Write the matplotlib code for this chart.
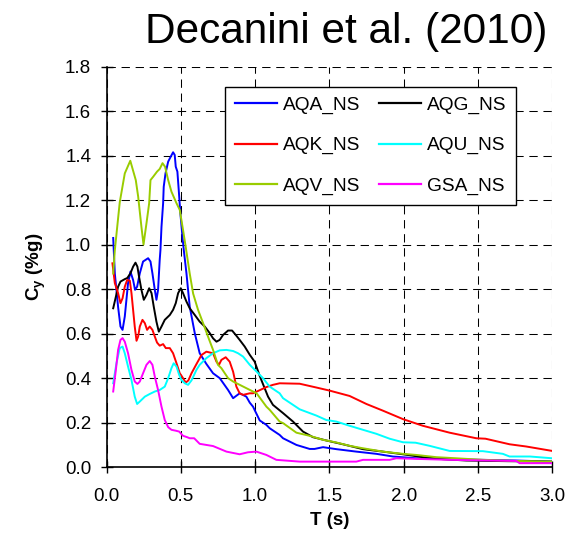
import matplotlib
matplotlib.use("Agg")
import matplotlib.pyplot as plt

plt.rcParams['font.family'] = ['Liberation Sans', 'DejaVu Sans']
plt.rcParams['mathtext.fontset'] = 'custom'
plt.rcParams['mathtext.bf'] = 'Liberation Sans:bold'
plt.rcParams['mathtext.rm'] = 'Liberation Sans'

# Yield strength coefficient spectra, T in seconds, Cy in %g
t_aqa = [0.045, 0.056, 0.078, 0.094, 0.108, 0.123, 0.145, 0.161, 0.179, 0.192, 0.206, 0.224,
         0.246, 0.28, 0.296, 0.309, 0.325, 0.336, 0.347, 0.358, 0.363, 0.37, 0.381, 0.385,
         0.397, 0.415, 0.432, 0.448, 0.459, 0.466, 0.477, 0.486, 0.497, 0.511, 0.52, 0.538,
         0.56, 0.594, 0.627, 0.672, 0.717, 0.762, 0.818, 0.852, 0.896, 0.941, 0.964, 0.986,
         1.031, 1.076, 1.098, 1.165, 1.188, 1.278, 1.367, 1.40, 1.457, 1.547, 1.681, 1.816,
         1.927, 2.085, 2.31, 2.533, 2.757, 3.0]
aqa_ns = [1.03, 0.87, 0.72, 0.632, 0.617, 0.677, 0.827, 0.879, 0.841, 0.797, 0.811, 0.871,
          0.924, 0.939, 0.924, 0.871, 0.797, 0.752, 0.797, 0.931, 0.976, 1.08, 1.186, 1.26,
          1.32, 1.373, 1.395, 1.415, 1.403, 1.35, 1.328, 1.246, 1.141, 1.036, 0.976, 0.871,
          0.721, 0.602, 0.512, 0.464, 0.422, 0.40, 0.347, 0.31, 0.332, 0.317, 0.29, 0.272,
          0.21, 0.19, 0.175, 0.145, 0.130, 0.100, 0.082, 0.082, 0.090, 0.081, 0.070, 0.060,
          0.048, 0.040, 0.036, 0.033, 0.030, 0.025]

t_aqg = [0.045, 0.063, 0.078, 0.094, 0.123, 0.14, 0.161, 0.179, 0.195, 0.208, 0.219, 0.235,
         0.251, 0.269, 0.287, 0.303, 0.318, 0.336, 0.352, 0.37, 0.392, 0.426, 0.448, 0.466,
         0.482, 0.50, 0.515, 0.538, 0.56, 0.594, 0.627, 0.661, 0.695, 0.717, 0.74, 0.762,
         0.784, 0.818, 0.845, 0.87, 0.896, 0.93, 0.964, 0.997, 1.031, 1.087, 1.12, 1.188,
         1.255, 1.322, 1.389, 1.479, 1.591, 1.726, 1.86, 1.995, 2.129, 2.264, 2.421, 2.7, 3.0]
aqg_ns = [0.714, 0.766, 0.811, 0.834, 0.845, 0.85, 0.871, 0.901, 0.919, 0.901, 0.856, 0.797,
          0.752, 0.774, 0.804, 0.782, 0.721, 0.654, 0.609, 0.632, 0.662, 0.684, 0.707, 0.737,
          0.782, 0.804, 0.782, 0.744, 0.714, 0.684, 0.654, 0.632, 0.602, 0.579, 0.564, 0.572,
          0.594, 0.614, 0.614, 0.594, 0.572, 0.542, 0.505, 0.474, 0.41, 0.317, 0.28, 0.243,
          0.205, 0.160, 0.135, 0.12, 0.103, 0.081, 0.07, 0.058, 0.045, 0.036, 0.03, 0.027, 0.025]

t_aqk = [0.04, 0.056, 0.078, 0.094, 0.108, 0.123, 0.139, 0.157, 0.168, 0.179, 0.19, 0.202,
         0.213, 0.224, 0.242, 0.258, 0.273, 0.291, 0.309, 0.325, 0.34, 0.358, 0.381, 0.399,
         0.426, 0.448, 0.471, 0.493, 0.515, 0.533, 0.551, 0.572, 0.605, 0.639, 0.672, 0.717,
         0.74, 0.757, 0.773, 0.802, 0.829, 0.852, 0.874, 0.896, 0.919, 0.964, 0.986, 1.076,
         1.12, 1.165, 1.3, 1.412, 1.502, 1.636, 1.749, 1.86, 1.995, 2.129, 2.309, 2.488, 2.55,
         2.712, 2.824, 3.0]
aqk_ns = [0.916, 0.827, 0.782, 0.737, 0.759, 0.811, 0.841, 0.838, 0.782, 0.707, 0.632, 0.568,
          0.587, 0.632, 0.662, 0.647, 0.617, 0.632, 0.617, 0.587, 0.56, 0.546, 0.553, 0.535,
          0.535, 0.512, 0.467, 0.422, 0.40, 0.38, 0.39, 0.422, 0.463, 0.504, 0.519, 0.512,
          0.474, 0.46, 0.482, 0.494, 0.474, 0.429, 0.362, 0.332, 0.325, 0.332, 0.332, 0.36,
          0.37, 0.377, 0.375, 0.358, 0.344, 0.32, 0.284, 0.254, 0.216, 0.186, 0.155, 0.130, 0.128,
          0.103, 0.093, 0.073]

t_aqu = [0.045, 0.067, 0.089, 0.108, 0.123, 0.145, 0.168, 0.19, 0.206, 0.224, 0.258, 0.291,
         0.325, 0.358, 0.392, 0.415, 0.437, 0.452, 0.471, 0.489, 0.504, 0.527, 0.549, 0.572,
         0.605, 0.627, 0.672, 0.717, 0.762, 0.807, 0.852, 0.885, 0.919, 0.964, 1.009, 1.053,
         1.098, 1.165, 1.188, 1.3, 1.412, 1.479, 1.547, 1.636, 1.726, 1.816, 1.905, 1.995,
         2.08, 2.174, 2.309, 2.533, 2.667, 2.712, 2.85, 3.0]
aqu_ns = [0.377, 0.467, 0.535, 0.542, 0.512, 0.452, 0.392, 0.317, 0.284, 0.295, 0.317, 0.329,
          0.34, 0.347, 0.362, 0.40, 0.445, 0.467, 0.452, 0.415, 0.392, 0.377, 0.37, 0.39,
          0.437, 0.46, 0.49, 0.512, 0.525, 0.527, 0.522, 0.512, 0.497, 0.46, 0.43, 0.40,
          0.362, 0.332, 0.31, 0.26, 0.232, 0.212, 0.205, 0.186, 0.168, 0.15, 0.128, 0.112,
          0.11, 0.096, 0.073, 0.072, 0.06, 0.048, 0.048, 0.04]

t_aqv = [0.045, 0.056, 0.089, 0.123, 0.16, 0.197, 0.213, 0.235, 0.249, 0.269, 0.287, 0.296,
         0.314, 0.34, 0.358, 0.377, 0.394, 0.415, 0.437, 0.471, 0.493, 0.515, 0.533, 0.56,
         0.583, 0.616, 0.65, 0.683, 0.717, 0.75, 0.773, 0.818, 0.852, 0.941, 1.01, 1.076,
         1.099, 1.165, 1.188, 1.278, 1.367, 1.457, 1.547, 1.636, 1.726, 1.86, 1.995, 2.085,
         2.22, 2.354, 2.533, 2.757, 3.0]
aqv_ns = [0.87, 0.975, 1.19, 1.32, 1.377, 1.29, 1.216, 1.08, 1.0, 1.096, 1.186, 1.29,
          1.305, 1.328, 1.34, 1.366, 1.35, 1.29, 1.238, 1.186, 1.156, 1.066, 0.99, 0.87,
          0.78, 0.707, 0.647, 0.587, 0.527, 0.46, 0.445, 0.40, 0.385, 0.355, 0.332, 0.272,
          0.257, 0.205, 0.198, 0.155, 0.141, 0.123, 0.111, 0.096, 0.085, 0.070, 0.060, 0.055,
          0.045, 0.040, 0.033, 0.028, 0.025]

t_gsa = [0.045, 0.063, 0.078, 0.094, 0.108, 0.123, 0.145, 0.168, 0.19, 0.208, 0.224, 0.246,
         0.269, 0.291, 0.309, 0.325, 0.347, 0.37, 0.392, 0.415, 0.437, 0.466, 0.489, 0.515,
         0.542, 0.56, 0.59, 0.627, 0.717, 0.807, 0.896, 0.952, 1.009, 1.076, 1.143, 1.3,
         1.681, 1.726, 1.905, 1.95, 2.309, 2.757, 2.78, 3.0]
gsa_ns = [0.34, 0.437, 0.527, 0.572, 0.58, 0.564, 0.512, 0.437, 0.385, 0.374, 0.385, 0.422,
          0.46, 0.477, 0.46, 0.407, 0.347, 0.272, 0.212, 0.18, 0.168, 0.164, 0.16, 0.141,
          0.135, 0.13, 0.13, 0.105, 0.095, 0.07, 0.058, 0.067, 0.07, 0.055, 0.033, 0.025,
          0.025, 0.033, 0.033, 0.04, 0.033, 0.028, 0.018, 0.018]

series = [
    ("AQA_NS", t_aqa, aqa_ns, "#0000FF"),
    ("AQG_NS", t_aqg, aqg_ns, "#000000"),
    ("AQK_NS", t_aqk, aqk_ns, "#FF0000"),
    ("AQU_NS", t_aqu, aqu_ns, "#00FFFF"),
    ("AQV_NS", t_aqv, aqv_ns, "#99CC00"),
    ("GSA_NS", t_gsa, gsa_ns, "#FF00FF"),
]

x_ticks = [0.0, 0.5, 1.0, 1.5, 2.0, 2.5, 3.0]
y_ticks = [0.0, 0.2, 0.4, 0.6, 0.8, 1.0, 1.2, 1.4, 1.6, 1.8]

fig = plt.figure(figsize=(5.82, 5.37), dpi=100)
ax = fig.add_axes([0.183, 0.130, 0.766, 0.746])

handles = {}
for name, t, v, c in series:
    handles[name], = ax.plot(t, v, color=c, lw=1.4, label=name, zorder=3)

ax.set_xlim(0, 3.0)
ax.set_ylim(0, 1.8)
ax.set_xticks(x_ticks)
ax.set_yticks(y_ticks)
ax.set_xticklabels([f"{v:.1f}" for v in x_ticks])
ax.set_yticklabels([f"{v:.1f}" for v in y_ticks])

ax.grid(True, color="black", lw=0.75, linestyle=(0, (8, 5.5)), zorder=1)
ax.set_axisbelow(True)
for side in ("top", "right"):
    ax.spines[side].set_visible(False)
for side in ("left", "bottom"):
    ax.spines[side].set_linewidth(1.2)
    ax.spines[side].set_zorder(4)

ax.tick_params(direction="inout", length=8, width=1, labelsize=13.5, colors="black")
ax.tick_params(axis="x", pad=11)
ax.tick_params(axis="y", pad=7)

ax.set_xlabel("T (s)", fontsize=13.5, fontweight="bold", labelpad=5)
ax.set_ylabel(r"$\mathbf{C_y}$ (%g)", fontsize=13.5, fontweight="bold", labelpad=12)

# legend laid out row-wise: columns are filled top to bottom
order = ["AQA_NS", "AQK_NS", "AQV_NS", "AQG_NS", "AQU_NS", "GSA_NS"]
leg = ax.legend([handles[k] for k in order], order, ncol=2, loc="upper right",
                bbox_to_anchor=(0.918, 0.950), borderaxespad=0, fontsize=13.8,
                frameon=True, fancybox=False, handlelength=2.2, handletextpad=0.28,
                columnspacing=1.0, labelspacing=1.2, borderpad=0.5)
leg.get_frame().set_edgecolor("black")
leg.get_frame().set_linewidth(1.0)
leg.get_frame().set_alpha(1)
for line in leg.get_lines():
    line.set_linewidth(1.6)

fig.text(547 / 582, 1 - 43 / 537, "Decanini et al. (2010)", fontsize=30.5,
         ha="right", va="baseline")

fig.savefig("out.png", dpi=100)
